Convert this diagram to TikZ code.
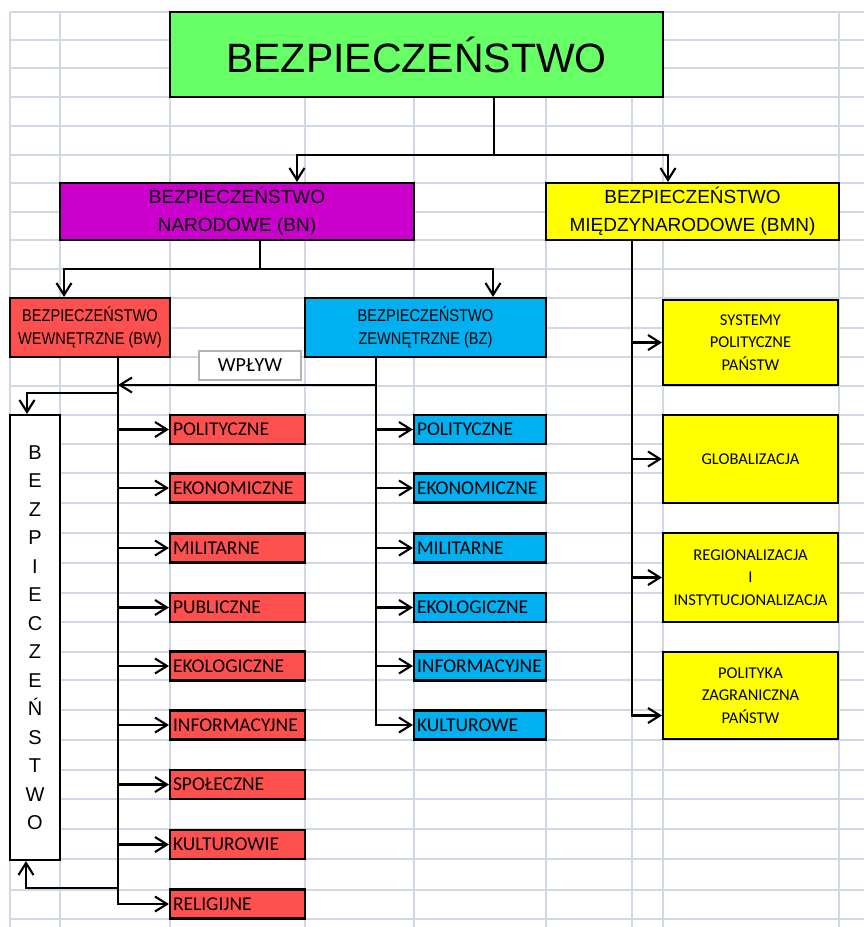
\documentclass[tikz,border=0pt]{standalone}
\usepackage{fontspec}
\setmainfont{Liberation Sans}
\newfontfamily\calfont{Carlito}
\newfontfamily\narrowfont[FakeStretch=0.86]{Liberation Sans}
\usetikzlibrary{arrows.meta}
\definecolor{gridc}{RGB}{208,215,229}
\definecolor{topc}{RGB}{102,255,102}
\definecolor{bnc}{RGB}{204,0,204}
\definecolor{bmnc}{RGB}{255,255,0}
\definecolor{bwc}{RGB}{255,80,80}
\definecolor{bzc}{RGB}{0,176,240}

\begin{document}
\begin{tikzpicture}[x=1pt,y=-1pt,
  box/.style={draw,line width=2.1pt,inner sep=0pt,align=center},
  kind/.style={box,minimum height=29pt,inner xsep=3pt,align=left,
    font=\calfont\fontsize{19.5}{22}\selectfont},
  redbox/.style={kind,fill=bwc,text width=129pt},
  bluebox/.style={kind,fill=bzc,text width=126pt},
  yelbox/.style={box,fill=bmnc,minimum width=175pt,
    font=\calfont\fontsize{16.5}{22.5}\selectfont},
  arr/.style={line width=2.1pt,-{Straight Barb[length=12pt,width=15pt]}}]
  \useasboundingbox (0,0) rectangle (864,927);
  \draw[gridc,line width=1.5pt] (10,12) -- (864,12) (10,40) -- (864,40) (10,68) -- (864,68)
    (10,97) -- (864,97) (10,126) -- (864,126) (10,155) -- (864,155) (10,183) -- (864,183)
    (10,212) -- (864,212) (10,240) -- (864,240) (10,269) -- (864,269) (10,298) -- (864,298)
    (10,328) -- (864,328) (10,357) -- (864,357) (10,386) -- (864,386) (10,415) -- (864,415)
    (10,444) -- (864,444) (10,473) -- (864,473) (10,503) -- (864,503) (10,533) -- (864,533)
    (10,563) -- (864,563) (10,593) -- (864,593) (10,622) -- (864,622) (10,652) -- (864,652)
    (10,680) -- (864,680) (10,710) -- (864,710) (10,740) -- (864,740) (10,770) -- (864,770)
    (10,799) -- (864,799) (10,829) -- (864,829) (10,859) -- (864,859) (10,890) -- (864,890)
    (10,919) -- (864,919);
  \draw[gridc,line width=1.5pt] (10,12) -- (10,927) (60,12) -- (60,927) (170,12) -- (170,927)
    (305,12) -- (305,927) (414,12) -- (414,927) (546,12) -- (546,927) (632,12) -- (632,927)
    (663,12) -- (663,927) (839,12) -- (839,927);

  \node[box,fill=topc,minimum width=493pt,minimum height=85pt,
    font=\fontsize{41}{48}\selectfont] (top) at (416.5,54.5) {BEZPIECZEŃSTWO};
  \node[box,fill=bnc,minimum width=354pt,minimum height=57pt,
    font=\fontsize{19}{28}\selectfont] (bn) at (237,211.5) {BEZPIECZEŃSTWO\\NARODOWE (BN)};
  \node[box,fill=bmnc,minimum width=293pt,minimum height=57pt,
    font=\fontsize{19}{28}\selectfont] (bmn) at (692.5,211.5) {BEZPIECZEŃSTWO\\MIĘDZYNARODOWE (BMN)};
  \node[box,fill=bwc,minimum width=160pt,minimum height=59pt,
    font=\narrowfont\fontsize{17}{23}\selectfont] (bw) at (90,327.5) {BEZPIECZEŃSTWO\\WEWNĘTRZNE (BW)};
  \node[box,fill=bzc,minimum width=241pt,minimum height=59pt,
    font=\narrowfont\fontsize{17}{23}\selectfont] (bz) at (425.5,327.5) {BEZPIECZEŃSTWO\\ZEWNĘTRZNE (BZ)};
  \node[draw=gray!60,line width=2pt,fill=white,minimum width=102pt,minimum height=29pt,
    font=\calfont\fontsize{20}{24}\selectfont] (wp) at (250,365.5) {WPŁYW};
  \node[box,fill=white,minimum width=50pt,minimum height=445pt,
    font=\fontsize{20}{28.5}\selectfont] (bv) at (35,637.5)
    {B\\E\\Z\\P\\I\\E\\C\\Z\\E\\Ń\\S\\T\\W\\O};

  \node[redbox] (bwpol) at (237.5,429.5) {POLITYCZNE};
  \node[redbox] (bweko) at (237.5,488) {EKONOMICZNE};
  \node[redbox] (bwmil) at (237.5,548) {MILITARNE};
  \node[redbox] (bwpub) at (237.5,607.5) {PUBLICZNE};
  \node[redbox] (bwekol) at (237.5,666) {EKOLOGICZNE};
  \node[redbox] (bwinf) at (237.5,725) {INFORMACYJNE};
  \node[redbox] (bwspo) at (237.5,784.5) {SPOŁECZNE};
  \node[redbox] (bwkul) at (237.5,844.5) {KULTUROWIE};
  \node[redbox] (bwrel) at (237.5,904) {RELIGIJNE};

  \node[bluebox] (bzpol) at (480,429.5) {POLITYCZNE};
  \node[bluebox] (bzeko) at (480,488) {EKONOMICZNE};
  \node[bluebox] (bzmil) at (480,548) {MILITARNE};
  \node[bluebox] (bzekol) at (480,607.5) {EKOLOGICZNE};
  \node[bluebox] (bzinf) at (480,666) {INFORMACYJNE};
  \node[bluebox] (bzkul) at (480,725) {KULTUROWE};

  \node[yelbox,minimum height=85pt] (syst) at (750.5,342.5) {SYSTEMY\\POLITYCZNE\\PAŃSTW};
  \node[yelbox,minimum height=88pt] (glob) at (750.5,459) {GLOBALIZACJA};
  \node[yelbox,minimum height=89pt] (regi) at (750.5,577.5) {REGIONALIZACJA\\I\\INSTYTUCJONALIZACJA};
  \node[yelbox,minimum height=87pt] (polz) at (750.5,695.5) {POLITYKA\\ZAGRANICZNA\\PAŃSTW};

  \coordinate (topsplit) at (494,155);
  \coordinate (topl) at (297,155);
  \coordinate (topr) at (668,155);
  \draw[line width=2.1pt] (top.south -| topsplit) -- (topsplit);
  \draw[arr] (topsplit) -- (topl) -- (bn.north -| topl);
  \draw[arr] (topsplit) -- (topr) -- (bmn.north -| topr);

  \coordinate (bnsplit) at (260,269);
  \coordinate (bnl) at (64,269);
  \coordinate (bnr) at (493,269);
  \draw[line width=2.1pt] (bn.south -| bnsplit) -- (bnsplit);
  \draw[arr] (bnsplit) -- (bnl) -- (bw.north -| bnl);
  \draw[arr] (bnsplit) -- (bnr) -- (bz.north -| bnr);

  \coordinate (bwline) at (118,393);
  \draw[arr] (bw.south -| bwline) |- (bwrel.west);
  \draw[arr] (bwline |- bwpol.west) -- (bwpol.west);
  \draw[arr] (bwline |- bweko.west) -- (bweko.west);
  \draw[arr] (bwline |- bwmil.west) -- (bwmil.west);
  \draw[arr] (bwline |- bwpub.west) -- (bwpub.west);
  \draw[arr] (bwline |- bwekol.west) -- (bwekol.west);
  \draw[arr] (bwline |- bwinf.west) -- (bwinf.west);
  \draw[arr] (bwline |- bwspo.west) -- (bwspo.west);
  \draw[arr] (bwline |- bwkul.west) -- (bwkul.west);

  \coordinate (bvtop) at (27,393);
  \draw[arr] (bwline) -- (bvtop) -- (bv.north -| bvtop);
  \coordinate (bvbotin) at (118,888);
  \coordinate (bvbot) at (26,888);
  \draw[arr] (bvbotin) -- (bvbot) -- (bv.south -| bvbot);

  \coordinate (bzline) at (376,385);
  \draw[arr] (bz.south -| bzline) |- (bzkul.west);
  \draw[arr] (bzline) -- (bwline |- bzline);
  \draw[arr] (bzline |- bzpol.west) -- (bzpol.west);
  \draw[arr] (bzline |- bzeko.west) -- (bzeko.west);
  \draw[arr] (bzline |- bzmil.west) -- (bzmil.west);
  \draw[arr] (bzline |- bzekol.west) -- (bzekol.west);
  \draw[arr] (bzline |- bzinf.west) -- (bzinf.west);

  \coordinate (bmnline) at (632,300);
  \draw[arr] (bmn.south -| bmnline) |- ([yshift=-20pt]polz.west);
  \draw[arr] (bmnline |- syst.west) -- (syst.west);
  \draw[arr] (bmnline |- glob.west) -- (glob.west);
  \draw[arr] (bmnline |- regi.west) -- (regi.west);
\end{tikzpicture}
\end{document}
